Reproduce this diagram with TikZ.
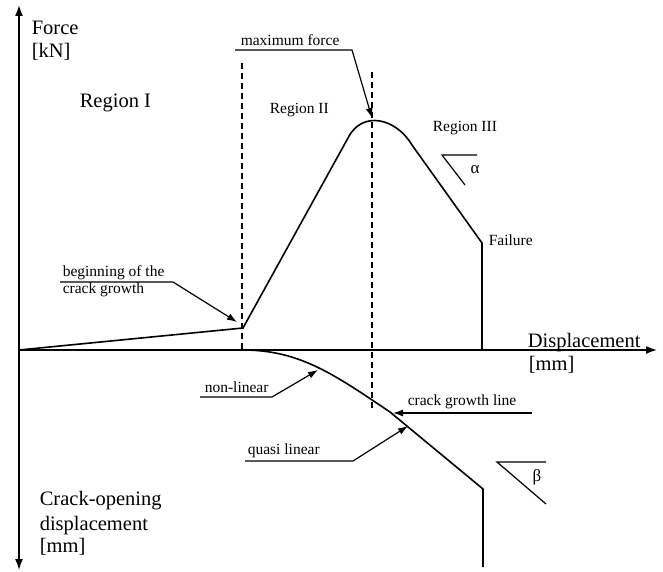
\documentclass[tikz,border=0pt]{standalone}
\usepackage{fontspec}
\setmainfont{Liberation Serif}
\usetikzlibrary{arrows.meta}

\begin{document}
\begin{tikzpicture}[x=1pt,y=-1pt,line width=1.6pt,
  big/.style={inner sep=0,anchor=base west,font=\fontsize{20.5}{24}\selectfont},
  small/.style={inner sep=0,anchor=base west,font=\fontsize{15.5}{18}\selectfont},
  lead/.style={line width=1.2pt,-{Latex[length=10pt,width=7pt]}},
  guide/.style={line width=1.1pt,dash pattern=on 6pt off 4pt}]
\useasboundingbox (0,0) rectangle (663,572);
\coordinate (o) at (19,350);
\coordinate (top) at (19,5);
\coordinate (bot) at (19,570);
\coordinate (right) at (657,350);
\draw [{Latex[length=11pt,width=8pt]}-{Latex[length=11pt,width=8pt]}] (top) -- (bot);
\draw [-{Latex[length=11pt,width=8pt]}] (o) -- (right);
\coordinate (c) at (243,328);
\coordinate (r) at (348,138);
\coordinate (f) at (412,145);
\coordinate (fail) at (482,243);
\coordinate (failx) at (482,350);
\draw (o) -- (c) -- (r) .. controls (362,110) and (396,118) .. (f) -- (fail) -- (failx);
\coordinate (g) at (390,412);
\coordinate (cod) at (483,489);
\coordinate (codx) at (483,567);
\draw (c |- o) .. controls (300,350) and (335,375) .. (g) -- (cod) -- (codx);
\coordinate (d1) at (242,63);
\draw [guide] (d1) -- (d1 |- o);
\coordinate (d2) at (372,72);
\coordinate (d2e) at (372,408);
\draw [guide] (d2) -- (d2e);
\node [big] (force) at (31,35) {Force};
\node [big] (kn) at (31,58) {[kN]};
\node [big] (reg1) at (79,108) {Region I};
\node [small] (reg2) at (269,114) {Region II};
\node [small] (reg3) at (432,132) {Region III};
\node [small] (failure) at (488,245) {Failure};
\node [big] (disp) at (527,347) {Displacement};
\node [big] (mm) at (528,370) {[mm]};
\node [big] (cod1) at (39,505) {Crack-opening};
\node [big] (cod2) at (39,530) {displacement};
\node [big] (cod3) at (39,552) {[mm]};
\node [small] (maxf) at (240,46) {maximum force};
\coordinate (m1) at (235,50);
\coordinate (m2) at (352,50);
\coordinate (mt) at (372,118);
\draw [lead] (m1) -- (m2) -- (mt);
\node [small] (beg) at (62,276) {beginning of the};
\node [small] (crk) at (62,293) {crack growth};
\coordinate (b1) at (60,282);
\coordinate (b2) at (173,282);
\coordinate (bt) at (237,322);
\draw [lead] (b1) -- (b2) -- (bt);
\node [small] (nonlin) at (204,392) {non-linear};
\coordinate (n1) at (200,397);
\coordinate (n2) at (272,397);
\coordinate (nt) at (318,370);
\draw [lead] (n1) -- (n2) -- (nt);
\node [small] (quasi) at (247,454) {quasi linear};
\coordinate (q1) at (245,461);
\coordinate (q2) at (353,461);
\coordinate (qt) at (408,426);
\draw [lead] (q1) -- (q2) -- (qt);
\node [small] (cgl) at (407,405) {crack growth line};
\coordinate (l1) at (532,413);
\coordinate (lt) at (393,413);
\draw [lead] (l1) -- (lt);
\coordinate (a1) at (442,155);
\coordinate (a2) at (477,155);
\coordinate (a3) at (465,185);
\draw [line width=1.2pt] (a2) -- (a1) -- (a3);
\node [small,anchor=center,font=\fontsize{17}{20}\selectfont] (alpha) at (475,170) {α};
\coordinate (be1) at (497,462);
\coordinate (be2) at (546,462);
\coordinate (be3) at (546,504);
\draw [line width=1.2pt] (be2) -- (be1) -- (be3);
\node [small,anchor=center,font=\fontsize{17}{20}\selectfont] (beta) at (537,477) {β};
\end{tikzpicture}
\end{document}
